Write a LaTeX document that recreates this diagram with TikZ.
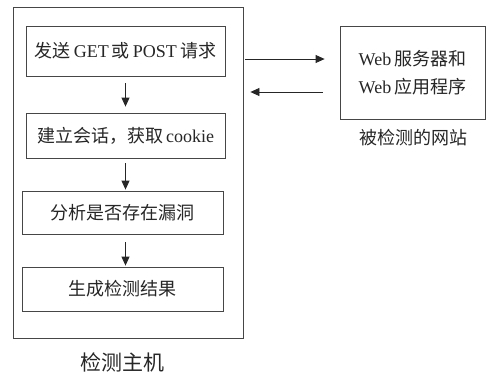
\documentclass[tikz,border=0pt]{standalone}
\usepackage{fontspec}
\setmainfont{Liberation Serif}
\newfontfamily\cjk{Noto Sans CJK SC}
\usetikzlibrary{arrows.meta}
\definecolor{trait}{RGB}{70,70,70}
\newcommand{\zh}[1]{{\cjk #1}}

\begin{document}
\begin{tikzpicture}[x=1pt, y=-1pt, anchor=center,
	boite/.style={draw=trait, line width=0.8pt, inner sep=0pt, text=black!85, font=\fontsize{18}{28}\selectfont},
	legende/.style={text=black!85, font=\fontsize{18}{22}\selectfont},
	fleche/.style={-{Triangle[length=9pt,width=8pt]}, draw=black!85, line width=0.8pt}]

		\useasboundingbox (0,0) rectangle (492,376);

		%le cadre de la machine
		\node[boite, minimum width=230, minimum height=331] (hote) at (128,172.5) {};
		\node[legende, font=\fontsize{21}{24}\selectfont] (hotetitre) at (122,362) {\zh{检测主机}};

		%les etapes
		\node[boite, minimum width=199, minimum height=50] (envoi) at (125.5,51) {\zh{发送}\,GET\,\zh{或}\,POST\,\zh{请求}};
		\node[boite, minimum width=199, minimum height=45] (session) at (125.5,135.5) {\zh{建立会话，获取}\,cookie};
		\node[boite, minimum width=201, minimum height=43] (analyse) at (122.5,212.5) {\zh{分析是否存在漏洞}};
		\node[boite, minimum width=201, minimum height=44] (resultat) at (122.5,289) {\zh{生成检测结果}};

		\draw[fleche, shorten <=7pt, shorten >=6pt] (envoi.south) -- (envoi.south |- session.north);
		\draw[fleche, shorten <=5pt, shorten >=1pt] (session.south) -- (session.south |- analyse.north);
		\draw[fleche, shorten <=8pt, shorten >=1pt] (session.south |- analyse.south) -- (session.south |- resultat.north);

		%le site
		\node[boite, minimum width=145, minimum height=93, align=center] (web) at (412.5,72.5) {Web\,\zh{服务器和}\\Web\,\zh{应用程序}};
		\node[legende] (sitetitre) at (413,138) {\zh{被检测的网站}};

		\coordinate (requete) at (0,59);
		\coordinate (reponse) at (0,92);
		\draw[fleche, shorten <=2pt, shorten >=15pt] (hote.east |- requete) -- (web.west |- requete);
		\draw[fleche, shorten <=17pt, shorten >=7pt] (web.west |- reponse) -- (hote.east |- reponse);

\end{tikzpicture}
\end{document}
